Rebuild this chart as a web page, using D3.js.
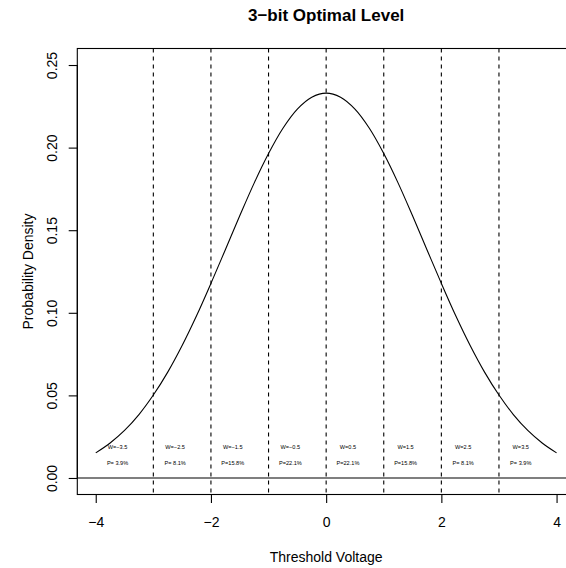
<!DOCTYPE html>
<html>
<head>
<meta charset="utf-8">
<script src="https://cdn.jsdelivr.net/npm/d3@7"></script>
<style>
  html, body { margin: 0; padding: 0; background: #fff; }
  svg { display: block; font-family: "Liberation Sans", Arial, Helvetica, sans-serif; }
</style>
</head>
<body>
<svg id="chart" width="566" height="568"></svg>
<script>
// ---- data ----
const voltage = [-4, -3.75, -3.5, -3.25, -3, -2.75, -2.5, -2.25, -2, -1.75, -1.5, -1.25, -1, -0.75, -0.5, -0.25,
                 0, 0.25, 0.5, 0.75, 1, 1.25, 1.5, 1.75, 2, 2.25, 2.5, 2.75, 3, 3.25, 3.5, 3.75, 4];
const density = [0.0152, 0.0212, 0.0288, 0.0384, 0.0502, 0.0641, 0.0802, 0.0982, 0.1178, 0.1382, 0.1587, 0.1785,
                 0.1964, 0.2117, 0.2233, 0.2305, 0.2330, 0.2305, 0.2233, 0.2117, 0.1964, 0.1785, 0.1587, 0.1382,
                 0.1178, 0.0982, 0.0802, 0.0641, 0.0502, 0.0384, 0.0288, 0.0212, 0.0152];
const thresholds = [-3, -2, -1, 0, 1, 2, 3];
const levels = [-3.5, -2.5, -1.5, -0.5, 0.5, 1.5, 2.5, 3.5];
const probs = [3.9, 8.1, 15.8, 22.1, 22.1, 15.8, 8.1, 3.9];
const xTicks = [-4, -2, 0, 2, 4];
const yTicks = [0.00, 0.05, 0.10, 0.15, 0.20, 0.25];
const titleText = "3\u2212bit Optimal Level";
const xTitle = "Threshold Voltage";
const yTitle = "Probability Density";

// ---- layout ----
const svg = d3.select("#chart");
const L = 77.3, R = 575, T = 48.5, B = 494.5;
const x = d3.scaleLinear().domain([-4.32, 4.32]).range([L, R]);
const y = d3.scaleLinear().domain([-0.01, 0.26]).range([B, T]);
const minus = s => String(s).replace("-", "\u2212");
const lw = 1.1;

// title
svg.append("text").attr("x", (L + R) / 2).attr("y", 15)
  .attr("text-anchor", "middle").attr("dominant-baseline", "central")
  .attr("font-weight", "bold").attr("font-size", 17).text(titleText);

// dashed thresholds
svg.append("g").selectAll("line").data(thresholds).join("line")
  .attr("x1", d => x(d)).attr("x2", d => x(d)).attr("y1", T).attr("y2", B)
  .attr("stroke", "#000").attr("stroke-width", lw).attr("stroke-dasharray", "4,4");

// horizontal zero line
svg.append("line").attr("x1", L).attr("x2", R).attr("y1", y(0)).attr("y2", y(0))
  .attr("stroke", "#000").attr("stroke-width", lw);

// density curve
const line = d3.line().x((d, i) => x(voltage[i])).y(d => y(d)).curve(d3.curveCatmullRom);
svg.append("path").datum(density).attr("d", line)
  .attr("fill", "none").attr("stroke", "#000").attr("stroke-width", lw);

// level labels
const lab = svg.append("g").attr("font-size", 5.6).attr("fill", "#000").attr("text-anchor", "middle");
levels.forEach((w, i) => {
  const px = x(w) - 7;
  lab.append("text").attr("x", px).attr("y", y(0.019)).attr("dominant-baseline", "central")
    .text("W=" + minus(w));
  const p = probs[i].toFixed(1);
  lab.append("text").attr("x", px).attr("y", y(0.0093)).attr("dominant-baseline", "central")
    .text("P=" + (p.length < 4 ? " " : "") + p + "%").attr("xml:space", "preserve").style("white-space", "pre");
});

// box
svg.append("rect").attr("x", L).attr("y", T).attr("width", R - L).attr("height", B - T)
  .attr("fill", "none").attr("stroke", "#000").attr("stroke-width", lw);

// x axis
const xAxis = d3.axisBottom(x).tickValues(xTicks).tickSize(8.6).tickPadding(6)
  .tickFormat(d => minus(d));
const gx = svg.append("g").attr("transform", `translate(0,${B})`).call(xAxis);
gx.select(".domain").attr("d", `M${x(xTicks[0])},0H${x(xTicks[xTicks.length - 1])}`).attr("stroke-width", lw);
gx.selectAll(".tick line").attr("stroke-width", lw);
gx.selectAll(".tick text").attr("font-size", 14).attr("font-family", null)
  .attr("y", null).attr("dy", null).attr("transform", "translate(0,27)").attr("dominant-baseline", "central");

// y axis
const yAxis = d3.axisLeft(y).tickValues(yTicks).tickSize(8.6).tickFormat(d3.format(".2f"));
const gy = svg.append("g").attr("transform", `translate(${L},0)`).call(yAxis);
gy.select(".domain").attr("d", `M0,${y(yTicks[0])}V${y(yTicks[yTicks.length - 1])}`).attr("stroke-width", lw);
gy.selectAll(".tick line").attr("stroke-width", lw);
gy.selectAll(".tick text").attr("font-size", 14).attr("font-family", null)
  .attr("x", null).attr("dy", null).attr("text-anchor", "middle").attr("dominant-baseline", "central")
  .attr("transform", "translate(-25.5,0) rotate(-90)");

// axis titles
svg.append("text").attr("x", (L + R) / 2).attr("y", 557).attr("text-anchor", "middle")
  .attr("dominant-baseline", "central").attr("font-size", 14).text(xTitle);
svg.append("text").attr("transform", `translate(28,${(T + B) / 2}) rotate(-90)`).attr("text-anchor", "middle")
  .attr("dominant-baseline", "central").attr("font-size", 14).text(yTitle);
</script>
</body>
</html>
